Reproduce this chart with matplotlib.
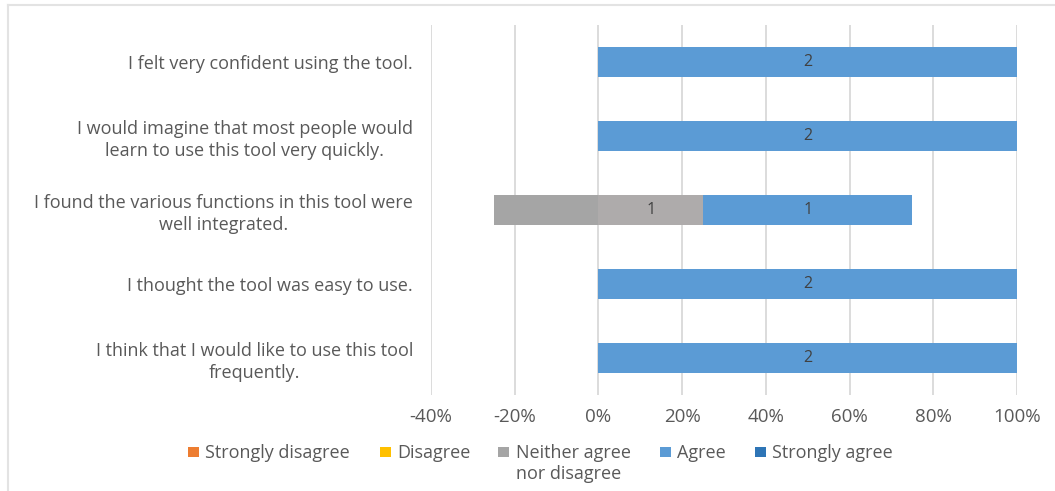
import matplotlib
matplotlib.use("Agg")
import matplotlib.pyplot as plt
from matplotlib.patches import Rectangle
from matplotlib.lines import Line2D
import numpy as np

plt.rcParams['font.family'] = ['Open Sans', 'DejaVu Sans']

categories = [
    "I think that I would like to use this tool\nfrequently.",
    "I thought the tool was easy to use.",
    "I found the various functions in this tool were\nwell integrated.",
    "I would imagine that most people would\nlearn to use this tool very quickly.",
    "I felt very confident using the tool.",
]
# counts per response
strongly_disagree = [0, 0, 0, 0, 0]
disagree = [0, 0, 0, 0, 0]
neutral = [0, 0, 1, 0, 0]
agree = [2, 2, 1, 2, 2]
strongly_agree = [0, 0, 0, 0, 0]

series_names = ["Strongly disagree", "Disagree", "Neither agree\nnor disagree", "Agree", "Strongly agree"]
colors = ["#ED7D31", "#FFC000", "#A5A5A5", "#5B9BD5", "#2E75B6"]
neutral_half_color = "#AEABAB"
xticks = [-0.4, -0.2, 0, 0.2, 0.4, 0.6, 0.8, 1.0]
xticklabels = ["-40%", "-20%", "0%", "20%", "40%", "60%", "80%", "100%"]

text_color = "#595959"
grid_color = "#D9D9D9"
W, H = 1055, 491

fig = plt.figure(figsize=(W / 100, H / 100), dpi=100)
ax = fig.add_axes([431 / W, 1 - 395 / H, (1017 - 431) / W, (395 - 25) / H])

y = np.arange(len(categories))
h = 0.4
for i in range(len(categories)):
    total = (strongly_disagree[i] + disagree[i] + neutral[i] + agree[i] + strongly_agree[i])
    sd = strongly_disagree[i] / total
    d = disagree[i] / total
    n = neutral[i] / total
    a = agree[i] / total
    sa = strongly_agree[i] / total
    left = -(sd + d + n / 2)
    if sd > 0:
        ax.barh(y[i], sd, left=left, height=h, color=colors[0], zorder=3)
    if d > 0:
        ax.barh(y[i], d, left=left + sd, height=h, color=colors[1], zorder=3)
    if n > 0:
        ax.barh(y[i], n / 2, left=-n / 2, height=h, color=colors[2], zorder=3)
        ax.barh(y[i], n / 2, left=0, height=h, color=neutral_half_color, zorder=3)
        ax.text(n / 4, y[i], str(neutral[i]), ha='center', va='center', fontsize=11.5, color="#404040", zorder=4)
    start = n / 2
    if a > 0:
        ax.barh(y[i], a, left=start, height=h, color=colors[3], zorder=3)
        ax.text(start + a / 2, y[i], str(agree[i]), ha='center', va='center', fontsize=11.5, color="#404040", zorder=4)
    if sa > 0:
        ax.barh(y[i], sa, left=start + a, height=h, color=colors[4], zorder=3)

ax.set_xlim(-0.4, 1.0)
ax.set_ylim(-0.5, len(categories) - 0.5)
ax.set_xticks(xticks)
ax.set_xticklabels(xticklabels, fontsize=13.5, color=text_color)
ax.set_yticks(y)
ax.set_yticklabels(categories, fontsize=13, color=text_color, ha='right',
                   multialignment='center', linespacing=1.25)
ax.tick_params(axis='both', length=0)
ax.tick_params(axis='x', pad=9)
ax.tick_params(axis='y', pad=13)
ax.grid(axis='x', color=grid_color, linewidth=1.3, zorder=0)
for s in ax.spines.values():
    s.set_visible(False)

# legend, laid out manually (pixel positions)
leg_square_x = [188, 380, 498, 660, 755]
leg_text_x = [205, 397, 516, 677, 772]
leg_baselines = [458, 479]
sq_top, sq = 447, 10
for lx, tx, c, name in zip(leg_square_x, leg_text_x, colors, series_names):
    fig.add_artist(Rectangle((lx / W, 1 - (sq_top + sq) / H), (sq + 1) / W, sq / H,
                             transform=fig.transFigure, facecolor=c, edgecolor='none'))
    for line, bl in zip(name.split("\n"), leg_baselines):
        fig.text(tx / W, 1 - bl / H, line, ha='left', va='baseline',
                 fontsize=13, color=text_color)

# outer frame (top and left lines)
fig.add_artist(Line2D([8 / W, 1.0], [1 - 5 / H, 1 - 5 / H], transform=fig.transFigure, color="#E3E3E3", linewidth=1.5))
fig.add_artist(Line2D([7.5 / W, 7.5 / W], [0, 1 - 5 / H], transform=fig.transFigure, color="#E3E3E3", linewidth=1.5))

fig.savefig("out.png", dpi=100, facecolor='white')
